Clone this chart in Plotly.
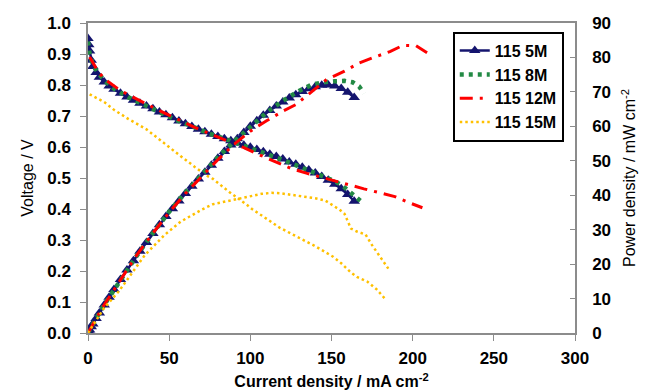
import plotly.graph_objects as go

# ---- data (current density mA cm-2, voltage V, power density mW cm-2) ----
I5 = [0, 0.5, 1, 2, 3, 5, 7, 10, 13, 16, 20, 24, 28, 32, 36, 40, 44, 48, 52, 56, 60, 64, 68, 72, 76,
      80, 84, 88, 92, 96, 100, 104, 108, 112, 116, 120, 124, 128, 132, 136, 140, 144, 148, 152, 156, 160, 164]
V5 = [0.95, 0.93, 0.91, 0.88, 0.86, 0.84, 0.825, 0.81, 0.797, 0.786, 0.773, 0.761, 0.751, 0.741, 0.732,
      0.723, 0.713, 0.704, 0.694, 0.684, 0.675, 0.666, 0.657, 0.649, 0.641, 0.634, 0.627, 0.62, 0.613,
      0.606, 0.599, 0.592, 0.585, 0.577, 0.569, 0.561, 0.552, 0.544, 0.535, 0.526, 0.516, 0.505, 0.493,
      0.48, 0.465, 0.447, 0.425]
P5 = [0, 0.5, 0.9, 1.8, 2.6, 4.2, 5.8, 8.1, 10.4, 12.6, 15.5, 18.3, 21, 23.7, 26.3, 28.9, 31.4, 33.8,
      36.1, 38.3, 40.5, 42.6, 44.7, 46.7, 48.7, 50.7, 52.7, 54.6, 56.4, 58.2, 60.0, 61.6, 63.2, 64.6,
      65.9, 67.1, 68.2, 69.2, 70.1, 70.9, 71.5, 71.9, 72.0, 71.7, 71.0, 69.9, 68.4]

I8 = [0, 1, 3, 6, 10, 16, 25, 35, 45, 55, 65, 75, 85, 95, 105, 115, 125, 135, 145, 152, 157, 161, 165, 169]
V8 = [0.94, 0.90, 0.865, 0.84, 0.815, 0.788, 0.76, 0.733, 0.71, 0.686, 0.663, 0.643, 0.625, 0.607,
      0.588, 0.568, 0.548, 0.527, 0.506, 0.49, 0.474, 0.457, 0.44, 0.421]
I8p = [0, 1, 5, 10, 20, 30, 40, 50, 60, 70, 80, 90, 100, 110, 120, 130, 138, 145, 152, 158, 163, 167, 170]
P8 = [0, 0.9, 4.2, 8.2, 15.6, 22.4, 29, 35.2, 40.8, 46, 51, 55.6, 60, 64, 67.4, 70.3, 72.1, 72.8,
      73.1, 73.2, 72.8, 71.6, 69.5]

I12 = [1, 3, 6, 10, 15, 20, 28, 36, 45, 55, 65, 75, 85, 95, 105, 115, 125, 135, 142, 150, 160, 170,
       180, 189, 197, 206]
V12 = [0.89, 0.87, 0.845, 0.82, 0.80, 0.782, 0.76, 0.738, 0.715, 0.69, 0.665, 0.643, 0.622, 0.60,
       0.576, 0.553, 0.531, 0.515, 0.505, 0.492, 0.479, 0.465, 0.452, 0.44, 0.422, 0.404]
I12p = [0, 1, 5, 10, 20, 30, 40, 50, 60, 70, 80, 90, 100, 110, 120, 128, 138, 147, 158, 167, 176,
        186, 194, 202, 210]
P12 = [0, 0.9, 4.2, 8.2, 15.6, 22.6, 29, 35, 40.5, 45.5, 50.3, 54.8, 58.6, 61.6, 64.4, 66.3, 70,
       73.6, 76, 78.4, 80, 81.7, 83.5, 83.4, 81]

I15 = [1, 5, 10, 16, 25, 36, 46, 57, 66, 74, 77, 87, 98, 101, 109, 118, 133, 139, 151, 156, 162,
       166, 172, 178, 183]
V15 = [0.77, 0.76, 0.745, 0.72, 0.69, 0.657, 0.615, 0.571, 0.535, 0.505, 0.497, 0.455, 0.413, 0.40,
       0.372, 0.34, 0.299, 0.283, 0.246, 0.225, 0.195, 0.18, 0.166, 0.14, 0.11]
I15p = [0, 5, 10, 19, 27, 35, 47, 57, 70, 77, 89, 98, 107, 113, 118, 133, 139, 146, 151, 155, 158,
        160, 162, 166, 171, 175, 180, 185]
P15 = [0, 3.7, 7.3, 12.1, 17.5, 22.6, 28.4, 32.3, 35.8, 37.4, 38.6, 39.6, 40.4, 40.7, 40.6, 39.6,
       39.2, 38.5, 37.0, 35.8, 34.6, 32.5, 30.3, 29.4, 28.6, 25.5, 22, 18.7]

NAMES = ["115 5M", "115 8M", "115 12M", "115 15M"]
NAVY, GREEN, RED, GOLD = "#14146e", "#238a45", "#ff0000", "#ffc000"
FONT = "Arial, Liberation Sans, sans-serif"

fig = go.Figure()

# 115 5M : navy line with triangles
fig.add_trace(go.Scatter(x=I5, y=V5, name=NAMES[0], mode="lines+markers",
                         line=dict(color=NAVY, width=2.5),
                         marker=dict(symbol="triangle-up", size=10, color=NAVY)))
fig.add_trace(go.Scatter(x=I5, y=P5, name=NAMES[0], yaxis="y2", mode="lines+markers", showlegend=False,
                         line=dict(color=NAVY, width=2.5),
                         marker=dict(symbol="triangle-up", size=10, color=NAVY)))
# 115 8M : green round dots
g_line = dict(color=GREEN, width=4.5, dash="4px,5px")
fig.add_trace(go.Scatter(x=I8, y=V8, name=NAMES[1], mode="lines", line=g_line))
fig.add_trace(go.Scatter(x=I8p, y=P8, name=NAMES[1], yaxis="y2", mode="lines", showlegend=False, line=g_line))
# 115 12M : red dash-dot
r_line = dict(color=RED, width=3, dash="13px,7px,3px,7px")
fig.add_trace(go.Scatter(x=I12, y=V12, name=NAMES[2], mode="lines", line=r_line))
fig.add_trace(go.Scatter(x=I12p, y=P12, name=NAMES[2], yaxis="y2", mode="lines", showlegend=False, line=r_line))
# 115 15M : yellow small dots
y_line = dict(color=GOLD, width=2.5, dash="2.5px,3px")
fig.add_trace(go.Scatter(x=I15, y=V15, name=NAMES[3], mode="lines", line=y_line))
fig.add_trace(go.Scatter(x=I15p, y=P15, name=NAMES[3], yaxis="y2", mode="lines", showlegend=False, line=y_line))

AX = "#8c8c8c"
tickfont = dict(family=FONT, size=17, color="black", weight="bold")
titlefont = dict(family=FONT, size=16, color="black")
xtitlefont = dict(family=FONT, size=16, color="black", weight="bold")

# the page body adds an 8px offset, margins compensate for it
fig.update_layout(
    width=651, height=390,
    margin=dict(l=80, r=84, t=15, b=65, autoexpand=False),
    paper_bgcolor="white", plot_bgcolor="white",
    font=dict(family=FONT, color="black"),
    showlegend=True,
    legend=dict(x=0.749, y=0.972, xanchor="left", yanchor="top",
                bordercolor="black", borderwidth=2, bgcolor="white",
                font=dict(family=FONT, size=16, color="black", weight="bold"),
                tracegroupgap=0, itemwidth=30),
    xaxis=dict(range=[0, 300], dtick=50, tick0=0, showgrid=False, zeroline=False, automargin=False,
               showline=True, linecolor=AX, linewidth=1.5, mirror=True,
               ticks="outside", ticklen=6, tickcolor=AX, tickwidth=1,
               tickfont=tickfont, ticklabelstandoff=3,
               title=dict(text="Current density / mA cm<sup>-2</sup>", font=xtitlefont, standoff=9)),
    yaxis=dict(range=[0, 1.0], dtick=0.1, tick0=0, tickformat=".1f", showgrid=False, zeroline=False,
               automargin=False,
               showline=True, linecolor=AX, linewidth=1.5,
               ticks="outside", ticklen=6, tickcolor=AX, tickwidth=1,
               tickfont=tickfont, ticklabelstandoff=6,
               title=dict(text="Voltage / V", font=titlefont, standoff=10)),
    yaxis2=dict(range=[0, 90], dtick=10, tick0=0, overlaying="y", side="right",
                showgrid=False, zeroline=False, automargin=False,
                showline=True, linecolor=AX, linewidth=1.5,
                ticks="inside", ticklen=5, tickcolor=AX, tickwidth=1,
                ticklabelstandoff=12,
                tickfont=tickfont,
                title=dict(text="Power density / mW cm<sup>-2</sup>", font=titlefont, standoff=14)),
)

fig.write_html("out.html")
